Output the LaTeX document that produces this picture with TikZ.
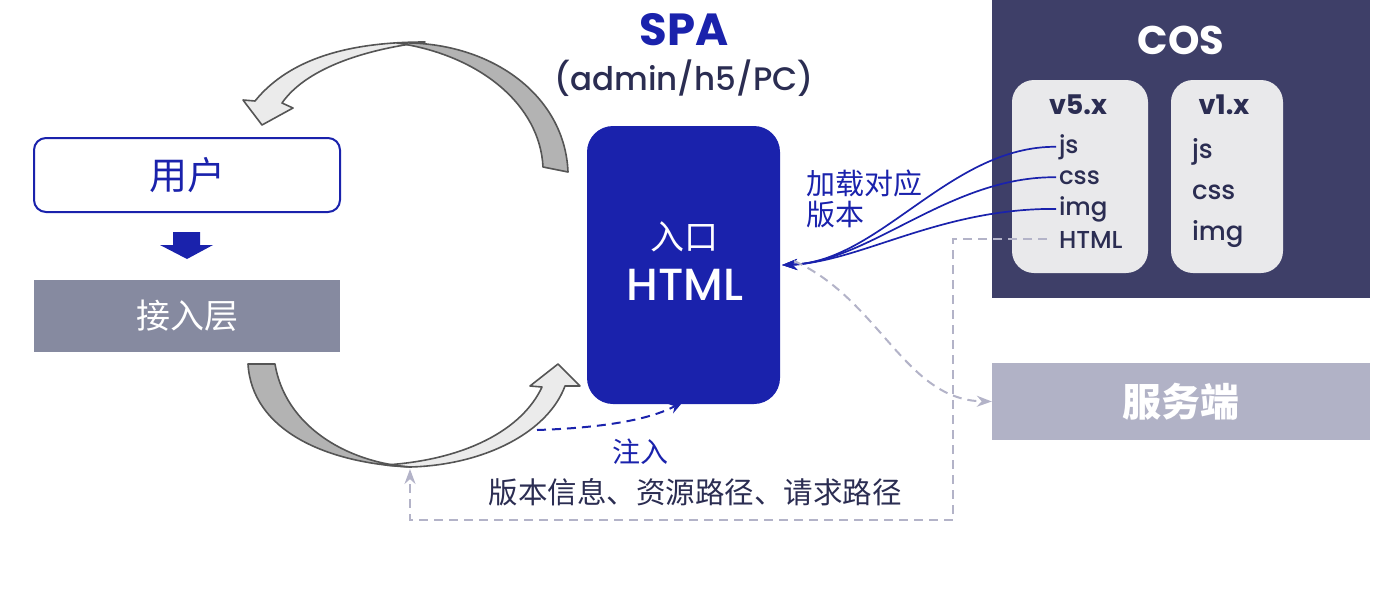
\documentclass[tikz,border=0pt]{standalone}
\usepackage{fontspec}
\setmainfont{Poppins}[UprightFont=* Medium, BoldFont=* Bold]
\newfontfamily\cjk{Noto Sans CJK SC}
\usetikzlibrary{arrows.meta}
\definecolor{ablue}{HTML}{1A22AC}
\definecolor{navy}{HTML}{2B2D52}
\definecolor{cosbg}{HTML}{3E3F68}
\definecolor{boxgray}{HTML}{E9E9EB}
\definecolor{layer}{HTML}{868AA0}
\definecolor{server}{HTML}{B1B2C6}
\definecolor{dashgray}{HTML}{B3B3C8}
\definecolor{ribdark}{HTML}{B3B3B3}
\definecolor{riblight}{HTML}{EBEBEB}
\definecolor{ribline}{HTML}{555555}
\newcommand\myfs[1]{\fontsize{#1}{#1}\selectfont}
\begin{document}
\begin{tikzpicture}[x=1pt,y=-1pt,
  txt/.style={inner sep=0pt, outer sep=0pt},
  verbox/.style={fill=boxgray, rounded corners=22pt, minimum width=#1, minimum height=193pt, inner sep=0pt},
  item5/.style={txt, anchor=base west, text=navy, font=\myfs{24.5}},
  item1/.style={txt, anchor=base west, text=navy, font=\myfs{26}},
  bluearrow/.style={ablue, line width=1.7pt, -{Stealth[length=15pt,width=11pt]}},
  grayarrow/.style={dashgray, line width=2pt, dash pattern=on 9pt off 6pt, -{Stealth[length=15pt,width=11pt]}},
  ribbon/.style={draw=ribline, line width=1.6pt, line join=round}
]
\useasboundingbox (0,0) rectangle (1398,590);

% ribbons (curved arrows)
\filldraw[ribbon, fill=riblight] (262,125) -- (243,100) -- (255,101)
  .. controls (290,58) and (350,42) .. (425,42)
  .. controls (360,50) and (305,70) .. (282,103) -- (293,108) -- cycle;
\filldraw[ribbon, fill=ribdark] (397,43) .. controls (490,40) and (565,95) .. (568,172)
  -- (543,167) .. controls (540,105) and (480,55) .. (397,43) -- cycle;
\filldraw[ribbon, fill=riblight] (410,467) .. controls (485,465) and (548,432) .. (565,386)
  -- (580,386) -- (558,364) -- (530,386) -- (542,387)
  .. controls (522,430) and (465,460) .. (385,465) -- cycle;
\filldraw[ribbon, fill=ribdark] (248,364) -- (275,364)
  .. controls (285,425) and (345,462) .. (410,467)
  .. controls (325,463) and (252,430) .. (248,364) -- cycle;
\coordinate (ribbot) at (410,469);

% left column
\node[draw=ablue, line width=2pt, rounded corners=12pt, fill=white, minimum width=306pt, minimum height=74pt, text=ablue, font=\cjk\myfs{38}] (user) at (187,175) {用户};
\fill[ablue] (173,232) -- (200,232) -- (200,245) -- (213,245) -- (187,259) -- (160,245) -- (173,245) -- cycle;
\node[fill=layer, minimum width=306pt, minimum height=72pt, text=white, font=\cjk\myfs{34}] (access) at (187,316) {接入层};

% SPA
\node[txt, text=ablue, font=\bfseries\myfs{45}] (spa) at (684,30) {SPA};
\node[txt, text=navy, font=\myfs{32.5}] (spasub) at (684,78) {(admin/h5/PC)};
\node[fill=ablue, rounded corners=26pt, minimum width=193pt, minimum height=278pt] (html) at (683.5,265) {};
\node[txt, text=white, font=\cjk\myfs{34}] (entry) at (684,237) {入口};
\node[txt, text=white, font=\myfs{45}, anchor=base] (entryhtml) at (685,300) {HTML};

% COS
\node[fill=cosbg, minimum width=378pt, minimum height=298pt, inner sep=0pt] (cos) at (1181,149) {};
\node[txt, text=white, font=\bfseries\myfs{40}] (costitle) at (1181,40) {COS};
\node[verbox=136pt] (v5) at (1080,176.5) {};
\node[verbox=112pt] (v1) at (1227,176.5) {};
\node[txt, text=navy, font=\bfseries\myfs{27}, anchor=base] (v5t) at (1078,114) {v5.x};
\node[txt, text=navy, font=\bfseries\myfs{27}, anchor=base] (v1t) at (1224,114) {v1.x};
\node[item5] (js5) at (1059,153) {js};
\node[item5] (css5) at (1059,184) {css};
\node[item5] (img5) at (1059,215) {img};
\node[item5] (html5) at (1059,248) {HTML};
\node[item1] (js1) at (1192,158) {js};
\node[item1] (css1) at (1192,199) {css};
\node[item1] (img1) at (1192,240) {img};

% server
\node[fill=server, minimum width=378pt, minimum height=77pt, text=white, font=\cjk\bfseries\myfs{39}] (srv) at (1181,401.5) {服务端};

% labels
\node[txt, anchor=west, text=ablue, font=\cjk\myfs{29}, align=left] (load1) at (806,183) {加载对应};
\node[txt, anchor=west, text=ablue, font=\cjk\myfs{29}, align=left] (load2) at (806,215) {版本};
\node[txt, text=ablue, font=\cjk\myfs{28}] (inject) at (640,452) {注入};
\node[txt, text=navy, font=\cjk\myfs{29.5}] (info) at (695,492) {版本信息、资源路径、请求路径};

% connectors
\coordinate (tip) at ([xshift=2pt]html.east);
\draw[bluearrow] ([xshift=-3pt]js5.west) .. controls (950,146) and (880,262) .. (tip);
\draw[bluearrow] ([xshift=-3pt]css5.west) .. controls (950,176) and (870,262) .. (tip);
\draw[bluearrow] ([xshift=-3pt]img5.west) .. controls (940,208) and (860,262) .. (tip);

\coordinate (gstart) at ([shift={(14pt,4pt)}]html.east);
\draw[grayarrow] (gstart) .. controls (880,300) and (905,400) .. (srv.west);

\coordinate (corner) at (953,520);
\draw[grayarrow] ([xshift=-12pt]html5.west) -| (corner) -| (ribbot);

\coordinate (istart) at (537,430);
\draw[ablue, line width=2pt, dash pattern=on 9pt off 6pt, -{Stealth[length=15pt,width=11pt]}] (istart) .. controls (600,428) and (650,420) .. ([yshift=3pt]html.south);
\end{tikzpicture}
\end{document}
